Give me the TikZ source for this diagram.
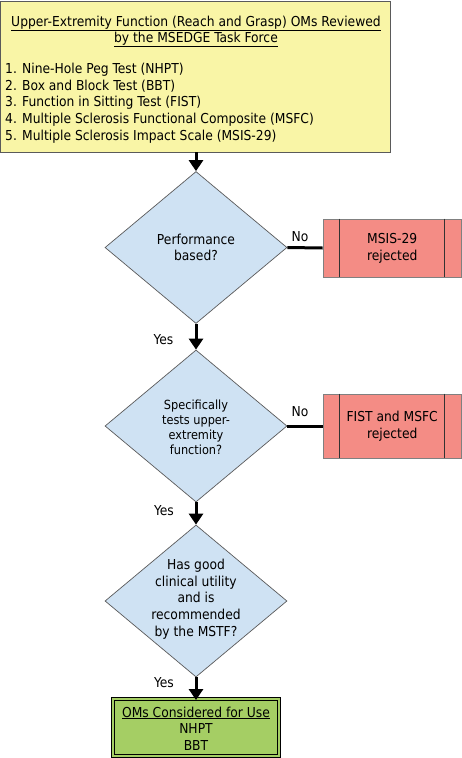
\documentclass[tikz,border=0pt]{standalone}
\usepackage{fontspec}
\setmainfont{DejaVu Sans Condensed}
\usetikzlibrary{shapes.geometric,arrows.meta}
\definecolor{yfill}{HTML}{F9F5A6}
\definecolor{bfill}{HTML}{CFE2F3}
\definecolor{rfill}{HTML}{F48C85}
\definecolor{gfill}{HTML}{A5CE64}
\definecolor{bord}{HTML}{5A5A5A}
\tikzset{
  x=1pt,y=-1pt,
  txt/.style={inner sep=0pt,font=\fontsize{13.7}{16.7}\selectfont},
  dia/.style={diamond,draw=bord,fill=bfill,line width=0.7pt,inner sep=0pt,minimum width=182pt,minimum height=152pt},
  dtext/.style={txt,align=center},
  rejbox/.style={rectangle,draw=gray,fill=rfill,line width=0.8pt,minimum width=138.5pt,align=center,inner sep=0pt,font=\fontsize{13.7}{16.7}\selectfont},
  inline/.style={draw=black!80,line width=0.7pt},
  conn/.style={line width=3pt,-{Triangle[width=14pt,length=11pt]}},
  plain/.style={line width=3pt},
  lbl/.style={txt,anchor=base},
}
\begin{document}
\begin{tikzpicture}
\useasboundingbox (0,0) rectangle (462,758);
% top box
\node[rectangle,draw=bord,fill=yfill,line width=0.8pt,minimum width=390pt,minimum height=151pt,inner sep=0pt] (y) at (195.75,76.5) {};
\node[lbl] (ti1) at (196,26) {\underline{Upper-Extremity Function (Reach and Grasp) OMs Reviewed}};
\node[lbl] (ti2) at (196,42) {\underline{by the MSEDGE Task Force}};
\node[lbl,anchor=base west] (l1) at (5,73) {1. Nine-Hole Peg Test (NHPT)};
\node[lbl,anchor=base west] (l2) at (5,90) {2. Box and Block Test (BBT)};
\node[lbl,anchor=base west] (l3) at (5,106.5) {3. Function in Sitting Test (FIST)};
\node[lbl,anchor=base west] (l4) at (5,123) {4. Multiple Sclerosis Functional Composite (MSFC)};
\node[lbl,anchor=base west] (l5) at (5,140) {5. Multiple Sclerosis Impact Scale (MSIS-29)};
% diamonds
\node[dia] (d1) at (196,247.5) {};
\node[dtext] (d1t) at (d1.center) {Performance\\based?};
\node[dia] (d2) at (196,426) {};
\node[dtext,font=\fontsize{12.6}{15}\selectfont] (d2t) at ([yshift=-1pt]d2.center) {Specifically\\tests upper-\\extremity\\function?};
\node[dia] (d3) at (196,601) {};
\node[dtext] (d3t) at ([yshift=2pt]d3.center) {Has good\\clinical utility\\and is\\recommended\\by the MSTF?};
% rejected boxes
\node[rejbox,minimum height=58pt] (r1) at (392.25,248) {MSIS-29\\rejected};
\node[rejbox,minimum height=64pt] (r2) at (392.25,426) {FIST and MSFC\\rejected};
\foreach \r in {r1,r2}{
  \draw[inline] ([xshift=17pt]\r.north west) -- ([xshift=17pt]\r.south west);
  \draw[inline] ([xshift=-18pt]\r.north east) -- ([xshift=-18pt]\r.south east);
}
% green box
\node[rectangle,draw=black,double=gfill,double distance=1.3pt,line width=0.9pt,fill=gfill,minimum width=166pt,minimum height=57pt,inner sep=0pt] (g) at (196,727.5) {};
\node[lbl] (g1) at (196,717) {\underline{OMs Considered for Use}};
\node[lbl] (g2) at (196,733.5) {NHPT};
\node[lbl] (g3) at (196,750) {BBT};
% connectors
\draw[conn] (d1.north |- y.south) -- (d1.north);
\draw[conn] (d1.south) -- (d2.north);
\draw[conn] (d2.south) -- (d3.north);
\draw[conn] (d3.south) -- ([yshift=-1.5pt]g.north);
\draw[plain] (d1.east) -- (r1.west);
\draw[plain] (d2.east) -- (r2.west);
% labels
\node[lbl] (n1) at (300,241) {No};
\node[lbl] (n2) at (300,416) {No};
\node[lbl] (y1) at (163.5,344) {Yes};
\node[lbl] (y2) at (164,515.5) {Yes};
\node[lbl] (y3) at (164,687.5) {Yes};
\end{tikzpicture}
\end{document}
